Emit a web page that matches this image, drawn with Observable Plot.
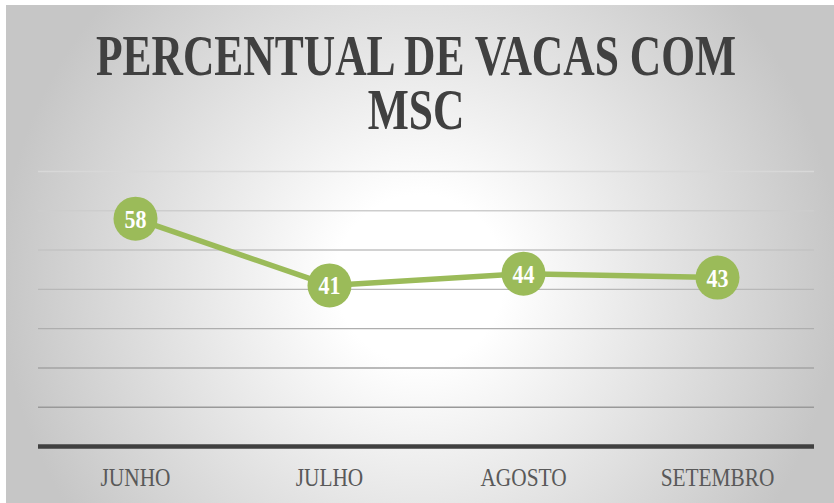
<!DOCTYPE html>
<html>
<head>
<meta charset="utf-8">
<script src="https://cdn.jsdelivr.net/npm/d3@7"></script>
<script src="https://cdn.jsdelivr.net/npm/@observablehq/plot@0.6"></script>
<style>
  html, body { margin: 0; padding: 0; background: #ffffff; }
  #chart {
    position: absolute; left: 6px; top: 5px; width: 828px; height: 498px;
    background: radial-gradient(circle 420px at 50% 55%, #ffffff 0%, #ffffff 20%, #c6c6c6 100%);
    overflow: hidden;
  }
  #title {
    box-sizing: border-box; height: 150px; padding-top: 24px; padding-right: 8px;
    font-family: "Liberation Serif", serif; font-weight: bold; font-size: 58px;
    color: #404040; white-space: nowrap;
  }
  #title .ln { height: 54px; line-height: 54px; text-align: left; }
  #title span {
    display: inline-block; position: relative; left: 50%;
    transform: translateX(-50%) scaleX(0.75); transform-origin: 50% 50%;
  }
</style>
</head>
<body>
<div id="chart">
  <div id="title"><div class="ln"><span>PERCENTUAL DE VACAS COM</span></div><div class="ln"><span>MSC</span></div></div>
</div>
<script>
const months = ["JUNHO", "JULHO", "AGOSTO", "SETEMBRO"];
const values = [58, 41, 44, 43];
const gridValues = [10, 20, 30, 40, 50, 60, 70];

const data = months.map((m, i) => ({month: m, value: values[i]}));
const green = "#9bbb59";
const gridColor = d3.interpolateRgb("#8e8e8e", "#d8d8d8");

const plot = Plot.plot({
  width: 828,
  height: 348,
  marginTop: 16,
  marginBottom: 57,
  marginLeft: 32,
  marginRight: 20,
  style: {fontFamily: "Liberation Serif", background: "transparent", color: "#595959", overflow: "visible"},
  x: {type: "point", domain: months, padding: 0.5, axis: null},
  y: {domain: [0, 70], axis: null},
  marks: [
    Plot.ruleY(gridValues, {stroke: d => gridColor(d / 70), strokeWidth: 1.4}),
    Plot.ruleY([0], {stroke: "#404040", strokeWidth: 4.3}),
    Plot.axisX({tickSize: 0, tickPadding: 21, fontSize: 26, fill: "#595959", label: null}),
    Plot.line(data, {x: "month", y: "value", stroke: green, strokeWidth: 5.5}),
    Plot.dot(data, {x: "month", y: "value", r: 22, fill: green, stroke: "none"}),
    Plot.text(data, {x: "month", y: "value", text: d => String(d.value), fill: "white",
      fontSize: 25, fontWeight: "bold", fontFamily: "Liberation Serif", dy: 1})
  ]
});
document.getElementById("chart").appendChild(plot);
plot.style.display = "block";

// condense tick labels to mimic the narrow serif face
plot.querySelectorAll('g[aria-label="x-axis tick label"] text').forEach(t => {
  const len = t.getComputedTextLength();
  t.setAttribute("lengthAdjust", "spacingAndGlyphs");
  t.setAttribute("textLength", (len * 0.82).toFixed(1));
});
plot.querySelectorAll('g[aria-label="text"] text').forEach(t => {
  const len = t.getComputedTextLength();
  t.setAttribute("lengthAdjust", "spacingAndGlyphs");
  t.setAttribute("textLength", (len * 0.88).toFixed(1));
});
</script>
</body>
</html>
